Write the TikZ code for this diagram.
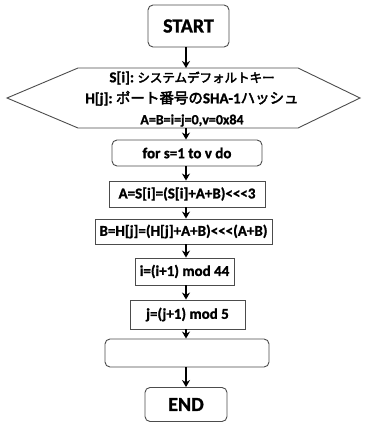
\documentclass[tikz,border=0pt]{standalone}
\usepackage{fontspec}
\setmainfont{Carlito}[BoldFeatures={FakeBold=1.2}]
\newfontfamily\jp{Noto Sans CJK JP}[AutoFakeBold=3]
\usetikzlibrary{arrows.meta}
\tikzset{
  box/.style={draw=black!70, line width=0.9pt, fill=white, inner sep=0pt, font=\fontsize{15}{17}\selectfont\bfseries},
  rbox/.style={box, rounded corners=5pt},
  arr/.style={-{Stealth[length=7pt,width=8pt]}, line width=1.4pt, black},
}
\begin{document}
\begin{tikzpicture}[x=1pt,y=-1pt]
\useasboundingbox (0,0) rectangle (365,423);
\coordinate (ax) at (186,0);
\node[rbox, minimum width=81pt, minimum height=42pt, font=\fontsize{20}{22}\selectfont\bfseries] (start) at (188.5,26) {START};
% hexagon
\coordinate (h1) at (78,68);
\coordinate (h2) at (298,68);
\coordinate (h3) at (360,98);
\coordinate (h4) at (298,128);
\coordinate (h5) at (78,128);
\coordinate (h6) at (7,98);
\draw[draw=black!70, line width=0.9pt] (h1) -- (h2) -- (h3) -- (h4) -- (h5) -- (h6) -- cycle;
\node[inner sep=0pt, minimum height=60pt, minimum width=220pt, align=center, font=\fontsize{15}{21}\selectfont\bfseries] (hex) at (192,99)
  {S[i]:\ {\jp\bfseries\fontsize{12.5}{14}\selectfont システムデフォルトキー}\\
   H[j]:\ {\jp\bfseries\fontsize{14.5}{16}\selectfont ポート番号の}SHA-1{\jp\bfseries\fontsize{14.5}{16}\selectfont ハッシュ}\\
   {\fontsize{14}{14}\selectfont A=B=i=j=0,v=0x84}};
\node[rbox, minimum width=150pt, minimum height=26pt] (for) at (187,153) {for s=1 to v do};
\node[box, minimum width=156pt, minimum height=26pt] (as) at (187,194) {A=S[i]=(S[i]+A+B)<{}<{}<3};
\node[box, minimum width=177pt, minimum height=25pt] (bh) at (183.5,231.5) {B=H[j]=(H[j]+A+B)<{}<{}<(A+B)};
\node[box, minimum width=99pt, minimum height=27pt] (ii) at (184.5,271.5) {i=(i+1) mod 44};
\node[box, minimum width=115pt, minimum height=29pt] (jj) at (187.5,314.5) {j=(j+1) mod 5};
\node[rbox, minimum width=164pt, minimum height=28pt] (empty) at (187,353) {};
\node[rbox, minimum width=82pt, minimum height=34pt, font=\fontsize{20}{22}\selectfont\bfseries] (end) at (186,404.5) {END};
\draw[arr] (start.south -| ax) -- (h1 -| ax);
\draw[arr] (h5 -| ax) -- (for.north -| ax);
\draw[arr] (for.south -| ax) -- (as.north -| ax);
\draw[arr] (as.south -| ax) -- (bh.north -| ax);
\draw[arr] (bh.south -| ax) -- (ii.north -| ax);
\draw[arr] (ii.south -| ax) -- (jj.north -| ax);
\draw[arr] (jj.south -| ax) -- (empty.north -| ax);
\draw[arr] (empty.south -| ax) -- (end.north -| ax);
\end{tikzpicture}
\end{document}
